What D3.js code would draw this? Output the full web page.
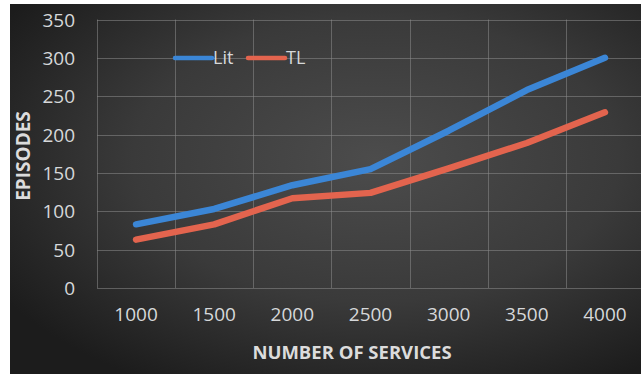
<!DOCTYPE html>
<html>
<head>
<meta charset="utf-8">
<script src="https://cdn.jsdelivr.net/npm/d3@7"></script>
<style>
  html, body { margin: 0; padding: 0; background: #ffffff; }
  svg { display: block; }
  text { font-family: "Open Sans", "Liberation Sans", sans-serif; }
</style>
</head>
<body>
<svg id="chart" width="641" height="374"></svg>
<script>
// Episodes needed per number of services
const services = [1000, 1500, 2000, 2500, 3000, 3500, 4000];
const litValues = [83, 103, 134, 155, 205, 258, 300];
const tlValues = [63, 83, 117, 124, 156, 189, 229];
const yTicks = [0, 50, 100, 150, 200, 250, 300, 350];
const seriesNames = ["Lit", "TL"];
const seriesColors = ["#3b86d6", "#e3644e"];

const svg = d3.select("#chart");
const W = 641, H = 374;

// dark radial background panel
const defs = svg.append("defs");
const grad = defs.append("radialGradient")
  .attr("id", "bg").attr("cx", "58%").attr("cy", "42%").attr("r", "70%");
grad.append("stop").attr("offset", "0%").attr("stop-color", "#4c4c4c");
grad.append("stop").attr("offset", "55%").attr("stop-color", "#3a3a3a");
grad.append("stop").attr("offset", "100%").attr("stop-color", "#1c1c1c");
svg.append("rect").attr("x", 10).attr("y", 4).attr("width", W - 10).attr("height", H - 4)
  .attr("fill", "url(#bg)");

const plot = { left: 97, right: 644, top: 19.5, bottom: 288 };

const x = d3.scaleBand().domain(services).range([plot.left, plot.right]).padding(0);
const y = d3.scaleLinear().domain([0, 350]).range([plot.bottom, plot.top]);

const grid = svg.append("g").attr("stroke", "#8a8a8a").attr("stroke-opacity", 0.55).attr("stroke-width", 1);
// horizontal grid
grid.selectAll("line.h").data(yTicks).join("line")
  .attr("x1", plot.left).attr("x2", W)
  .attr("y1", d => Math.round(y(d)) + 0.5).attr("y2", d => Math.round(y(d)) + 0.5);
// vertical grid at category boundaries
grid.selectAll("line.v").data(services).join("line")
  .attr("x1", d => Math.round(x(d)) + 0.5).attr("x2", d => Math.round(x(d)) + 0.5)
  .attr("y1", plot.top).attr("y2", plot.bottom);

// axes (labels only)
const yAxis = d3.axisLeft(y).tickValues(yTicks).tickSize(0).tickPadding(22);
const gy = svg.append("g").attr("transform", `translate(${plot.left},0)`).call(yAxis);
gy.select(".domain").remove();
gy.selectAll("text").attr("fill", "#d6d8da").attr("font-size", 19)
  .attr("font-family", "'Open Sans', sans-serif").attr("dy", "0.35em");

const xAxis = d3.axisBottom(x).tickSize(0).tickPadding(20);
const gx = svg.append("g").attr("transform", `translate(0,${plot.bottom})`).call(xAxis);
gx.select(".domain").remove();
gx.selectAll("text").attr("fill", "#d6d8da").attr("font-size", 19)
  .attr("font-family", "'Open Sans', sans-serif");

// axis titles
svg.append("text")
  .attr("transform", `translate(30,156) rotate(-90)`)
  .attr("text-anchor", "middle")
  .attr("fill", "#dcdcdc").attr("font-weight", "bold").attr("font-size", 19)
  .text("EPISODES");
svg.append("text")
  .attr("x", 352).attr("y", 359)
  .attr("text-anchor", "middle")
  .attr("fill", "#dcdcdc").attr("font-weight", "bold").attr("font-size", 18.5)
  .text("NUMBER OF SERVICES");

// series lines
const line = d3.line()
  .x((d, i) => x(services[i]) + x.bandwidth() / 2)
  .y(d => y(d));
[litValues, tlValues].forEach((vals, k) => {
  svg.append("path").datum(vals)
    .attr("fill", "none").attr("stroke", seriesColors[k])
    .attr("stroke-width", 6.5).attr("stroke-linecap", "round").attr("stroke-linejoin", "round")
    .attr("d", line);
});

// legend
const legend = svg.append("g").attr("transform", "translate(175,58)");
const items = [{ name: seriesNames[0], color: seriesColors[0], dx: 0 },
               { name: seriesNames[1], color: seriesColors[1], dx: 73 }];
items.forEach(it => {
  const g = legend.append("g").attr("transform", `translate(${it.dx},0)`);
  g.append("line").attr("x1", 0).attr("x2", 37).attr("y1", 0).attr("y2", 0)
    .attr("stroke", it.color).attr("stroke-width", 4.5).attr("stroke-linecap", "round");
  g.append("text").attr("x", 38).attr("y", 0).attr("dy", "0.35em")
    .attr("fill", "#d6d8da").attr("font-size", 18).text(it.name);
});
</script>
</body>
</html>
